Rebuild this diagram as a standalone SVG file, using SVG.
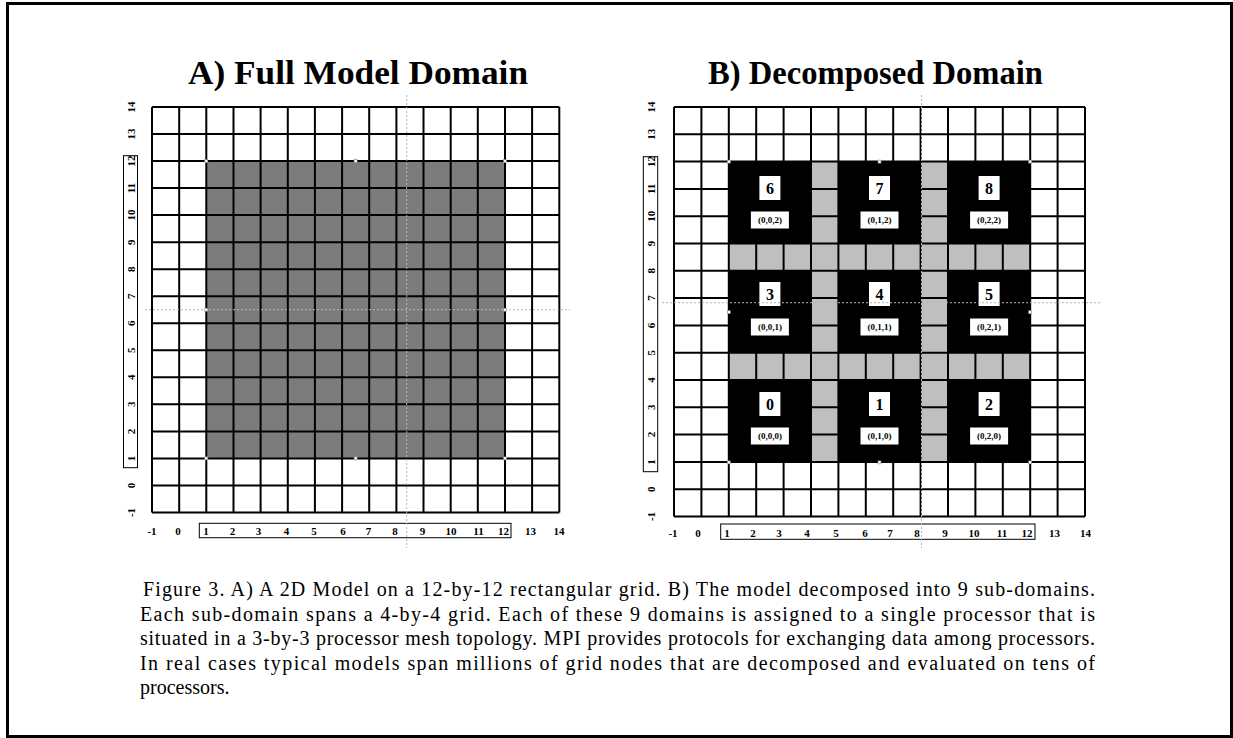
<svg xmlns="http://www.w3.org/2000/svg" width="1233" height="738" viewBox="0 0 1233 738">
<style>
.title{font-family:"Liberation Serif","Times New Roman",serif;font-weight:bold;font-size:33px;fill:#000}
.ax{font-family:"Liberation Serif","Times New Roman",serif;font-weight:bold;font-size:11px;fill:#000;text-anchor:middle}
.grid{fill:none;stroke:#000;stroke-width:2}
.box{fill:none;stroke:#000;stroke-width:1}
.dot{fill:none;stroke:#b4b4b4;stroke-width:1;stroke-dasharray:2 2}
.hnd{fill:#fff;stroke:#888;stroke-width:0.6}
.blk{fill:#000}
.lbl{fill:#fff}
.num{font-family:"Liberation Serif","Times New Roman",serif;font-weight:bold;font-size:16px;fill:#000;text-anchor:middle}
.crd{font-family:"Liberation Serif","Times New Roman",serif;font-weight:bold;font-size:9px;fill:#000;text-anchor:middle}
.cap{font-family:"Liberation Serif","Times New Roman",serif;font-size:20px;fill:#000}
</style>
<rect x="0" y="0" width="1233" height="738" fill="#fff"/>
<rect x="7.5" y="3.5" width="1224" height="733" fill="none" stroke="#000" stroke-width="3"/>

<g id="panelA">
<text class="title" x="188" y="84" textLength="340" lengthAdjust="spacingAndGlyphs">A) Full Model Domain</text>
<rect x="206.3" y="161.1" width="298.7" height="297.3" fill="#7c7c7c"/>
<path class="grid" d="M152 107V512.5M179.2 107V512.5M206.3 107V512.5M233.5 107V512.5M260.6 107V512.5M287.8 107V512.5M314.9 107V512.5M342.1 107V512.5M369.2 107V512.5M396.4 107V512.5M423.5 107V512.5M450.7 107V512.5M477.8 107V512.5M505 107V512.5M532.1 107V512.5M559.3 107V512.5M152 107H559.3M152 134H559.3M152 161.1H559.3M152 188.1H559.3M152 215.1H559.3M152 242.2H559.3M152 269.2H559.3M152 296.2H559.3M152 323.2H559.3M152 350.3H559.3M152 377.3H559.3M152 404.3H559.3M152 431.4H559.3M152 458.4H559.3M152 485.4H559.3M152 512.5H559.3"/>
<g id="axisA">
<rect class="box" x="123.5" y="155.7" width="14" height="312"/>
<rect class="box" x="199.3" y="523.3" width="311.7" height="14.4"/>
<text class="ax" transform="translate(134.5,107) rotate(-90)">14</text>
<text class="ax" transform="translate(134.5,134) rotate(-90)">13</text>
<text class="ax" transform="translate(134.5,161.1) rotate(-90)">12</text>
<text class="ax" transform="translate(134.5,188.1) rotate(-90)">11</text>
<text class="ax" transform="translate(134.5,215.1) rotate(-90)">10</text>
<text class="ax" transform="translate(134.5,242.2) rotate(-90)">9</text>
<text class="ax" transform="translate(134.5,269.2) rotate(-90)">8</text>
<text class="ax" transform="translate(134.5,296.2) rotate(-90)">7</text>
<text class="ax" transform="translate(134.5,323.2) rotate(-90)">6</text>
<text class="ax" transform="translate(134.5,350.3) rotate(-90)">5</text>
<text class="ax" transform="translate(134.5,377.3) rotate(-90)">4</text>
<text class="ax" transform="translate(134.5,404.3) rotate(-90)">3</text>
<text class="ax" transform="translate(134.5,431.4) rotate(-90)">2</text>
<text class="ax" transform="translate(134.5,458.4) rotate(-90)">1</text>
<text class="ax" transform="translate(134.5,485.4) rotate(-90)">0</text>
<text class="ax" transform="translate(134.5,512.5) rotate(-90)">-1</text>
<text class="ax" x="152" y="535">-1</text>
<text class="ax" x="178" y="535">0</text>
<text class="ax" x="206" y="535">1</text>
<text class="ax" x="232.5" y="535">2</text>
<text class="ax" x="258.5" y="535">3</text>
<text class="ax" x="286.5" y="535">4</text>
<text class="ax" x="314" y="535">5</text>
<text class="ax" x="343" y="535">6</text>
<text class="ax" x="368.5" y="535">7</text>
<text class="ax" x="395" y="535">8</text>
<text class="ax" x="422.5" y="535">9</text>
<text class="ax" x="451" y="535">10</text>
<text class="ax" x="478.5" y="535">11</text>
<text class="ax" x="503.5" y="535">12</text>
<text class="ax" x="530.5" y="535">13</text>
<text class="ax" x="559" y="535">14</text>
</g>
<path class="dot" d="M406.7 95V548M145 309.7H570"/>
<g id="handlesA">
<rect class="hnd" x="204.8" y="159.6" width="3" height="3"/>
<rect class="hnd" x="354.1" y="159.6" width="3" height="3"/>
<rect class="hnd" x="503.5" y="159.6" width="3" height="3"/>
<rect class="hnd" x="204.8" y="308.2" width="3" height="3"/>
<rect class="hnd" x="503.5" y="308.2" width="3" height="3"/>
<rect class="hnd" x="204.8" y="456.9" width="3" height="3"/>
<rect class="hnd" x="354.1" y="456.9" width="3" height="3"/>
<rect class="hnd" x="503.5" y="456.9" width="3" height="3"/>
</g>
</g>

<g id="panelB">
<text class="title" x="708" y="84" textLength="335" lengthAdjust="spacingAndGlyphs">B) Decomposed Domain</text>
<rect x="728.8" y="161.6" width="301.4" height="300.3" fill="#bfbfbf"/>
<path class="grid" d="M674 107V516.5M701.4 107V516.5M728.8 107V516.5M756.2 107V516.5M783.6 107V516.5M811 107V516.5M838.4 107V516.5M865.8 107V516.5M893.2 107V516.5M920.6 107V516.5M948 107V516.5M975.4 107V516.5M1002.8 107V516.5M1030.2 107V516.5M1057.6 107V516.5M1085 107V516.5M674 107H1085M674 134.3H1085M674 161.6H1085M674 188.9H1085M674 216.2H1085M674 243.5H1085M674 270.8H1085M674 298.1H1085M674 325.4H1085M674 352.7H1085M674 380H1085M674 407.3H1085M674 434.6H1085M674 461.9H1085M674 489.2H1085M674 516.5H1085"/>

<g id="sub6"><rect class="blk" x="728.8" y="161.6" width="82.2" height="81.9"/><rect class="lbl" x="759.4" y="176" width="21" height="24"/><text class="num" x="769.9" y="193.5">6</text><rect class="lbl" x="750.9" y="211.5" width="38" height="17"/><text class="crd" x="769.9" y="223.2">(0,0,2)</text></g>
<g id="sub7"><rect class="blk" x="838.4" y="161.6" width="82.2" height="81.9"/><rect class="lbl" x="869" y="176" width="21" height="24"/><text class="num" x="879.5" y="193.5">7</text><rect class="lbl" x="860.5" y="211.5" width="38" height="17"/><text class="crd" x="879.5" y="223.2">(0,1,2)</text></g>
<g id="sub8"><rect class="blk" x="948" y="161.6" width="82.2" height="81.9"/><rect class="lbl" x="978.6" y="176" width="21" height="24"/><text class="num" x="989.1" y="193.5">8</text><rect class="lbl" x="970.1" y="211.5" width="38" height="17"/><text class="crd" x="989.1" y="223.2">(0,2,2)</text></g>

<g id="sub3"><rect class="blk" x="728.8" y="270.8" width="82.2" height="81.9"/><rect class="lbl" x="759.4" y="282" width="21" height="24"/><text class="num" x="769.9" y="299.5">3</text><rect class="lbl" x="750.9" y="318.5" width="38" height="17"/><text class="crd" x="769.9" y="330.2">(0,0,1)</text></g>
<g id="sub4"><rect class="blk" x="838.4" y="270.8" width="82.2" height="81.9"/><rect class="lbl" x="869" y="282" width="21" height="24"/><text class="num" x="879.5" y="299.5">4</text><rect class="lbl" x="860.5" y="318.5" width="38" height="17"/><text class="crd" x="879.5" y="330.2">(0,1,1)</text></g>
<g id="sub5"><rect class="blk" x="948" y="270.8" width="82.2" height="81.9"/><rect class="lbl" x="978.6" y="282" width="21" height="24"/><text class="num" x="989.1" y="299.5">5</text><rect class="lbl" x="970.1" y="318.5" width="38" height="17"/><text class="crd" x="989.1" y="330.2">(0,2,1)</text></g>

<g id="sub0"><rect class="blk" x="728.8" y="380" width="82.2" height="81.9"/><rect class="lbl" x="759.4" y="392" width="21" height="24"/><text class="num" x="769.9" y="409.5">0</text><rect class="lbl" x="750.9" y="427.5" width="38" height="17"/><text class="crd" x="769.9" y="439.2">(0,0,0)</text></g>
<g id="sub1"><rect class="blk" x="838.4" y="380" width="82.2" height="81.9"/><rect class="lbl" x="869" y="392" width="21" height="24"/><text class="num" x="879.5" y="409.5">1</text><rect class="lbl" x="860.5" y="427.5" width="38" height="17"/><text class="crd" x="879.5" y="439.2">(0,1,0)</text></g>
<g id="sub2"><rect class="blk" x="948" y="380" width="82.2" height="81.9"/><rect class="lbl" x="978.6" y="392" width="21" height="24"/><text class="num" x="989.1" y="409.5">2</text><rect class="lbl" x="970.1" y="427.5" width="38" height="17"/><text class="crd" x="989.1" y="439.2">(0,2,0)</text></g>

<g id="axisB">
<rect class="box" x="643.3" y="156.7" width="14.4" height="315"/>
<rect class="box" x="720.7" y="524" width="314.3" height="15.3"/>
<text class="ax" transform="translate(655,107) rotate(-90)">14</text>
<text class="ax" transform="translate(655,134.3) rotate(-90)">13</text>
<text class="ax" transform="translate(655,161.6) rotate(-90)">12</text>
<text class="ax" transform="translate(655,188.9) rotate(-90)">11</text>
<text class="ax" transform="translate(655,216.2) rotate(-90)">10</text>
<text class="ax" transform="translate(655,243.5) rotate(-90)">9</text>
<text class="ax" transform="translate(655,270.8) rotate(-90)">8</text>
<text class="ax" transform="translate(655,298.1) rotate(-90)">7</text>
<text class="ax" transform="translate(655,325.4) rotate(-90)">6</text>
<text class="ax" transform="translate(655,352.7) rotate(-90)">5</text>
<text class="ax" transform="translate(655,380) rotate(-90)">4</text>
<text class="ax" transform="translate(655,407.3) rotate(-90)">3</text>
<text class="ax" transform="translate(655,434.6) rotate(-90)">2</text>
<text class="ax" transform="translate(655,461.9) rotate(-90)">1</text>
<text class="ax" transform="translate(655,489.2) rotate(-90)">0</text>
<text class="ax" transform="translate(655,516.5) rotate(-90)">-1</text>
<text class="ax" x="673" y="536.5">-1</text>
<text class="ax" x="698" y="536.5">0</text>
<text class="ax" x="727" y="536.5">1</text>
<text class="ax" x="753" y="536.5">2</text>
<text class="ax" x="779" y="536.5">3</text>
<text class="ax" x="807" y="536.5">4</text>
<text class="ax" x="836" y="536.5">5</text>
<text class="ax" x="865" y="536.5">6</text>
<text class="ax" x="890" y="536.5">7</text>
<text class="ax" x="917" y="536.5">8</text>
<text class="ax" x="945" y="536.5">9</text>
<text class="ax" x="974" y="536.5">10</text>
<text class="ax" x="1002" y="536.5">11</text>
<text class="ax" x="1027" y="536.5">12</text>
<text class="ax" x="1054.5" y="536.5">13</text>
<text class="ax" x="1085.5" y="536.5">14</text>
</g>
<path class="dot" d="M921.5 95V548M662 302.7H1100"/>
<g id="handlesB">
<rect class="hnd" x="727.3" y="160.1" width="3" height="3"/>
<rect class="hnd" x="878" y="160.1" width="3" height="3"/>
<rect class="hnd" x="1028.7" y="160.1" width="3" height="3"/>
<rect class="hnd" x="727.3" y="310.7" width="3" height="3"/>
<rect class="hnd" x="1028.7" y="310.7" width="3" height="3"/>
<rect class="hnd" x="727.3" y="460.9" width="3" height="3"/>
<rect class="hnd" x="878" y="460.9" width="3" height="3"/>
<rect class="hnd" x="1028.7" y="460.9" width="3" height="3"/>
</g>
</g>

<g id="caption">
<text class="cap" x="143" y="596" textLength="952" lengthAdjust="spacing">Figure 3. A) A 2D Model on a 12-by-12 rectangular grid. B) The model decomposed into 9 sub-domains.</text>
<text class="cap" x="140" y="620.5" textLength="955" lengthAdjust="spacing">Each sub-domain spans a 4-by-4 grid. Each of these 9 domains is assigned to a single processor that is</text>
<text class="cap" x="140" y="645" textLength="955" lengthAdjust="spacing">situated in a 3-by-3 processor mesh topology. MPI provides protocols for exchanging data among processors.</text>
<text class="cap" x="140" y="669.5" textLength="955" lengthAdjust="spacing">In real cases typical models span millions of grid nodes that are decomposed and evaluated on tens of</text>
<text class="cap" x="140" y="694">processors.</text>
</g>
</svg>
